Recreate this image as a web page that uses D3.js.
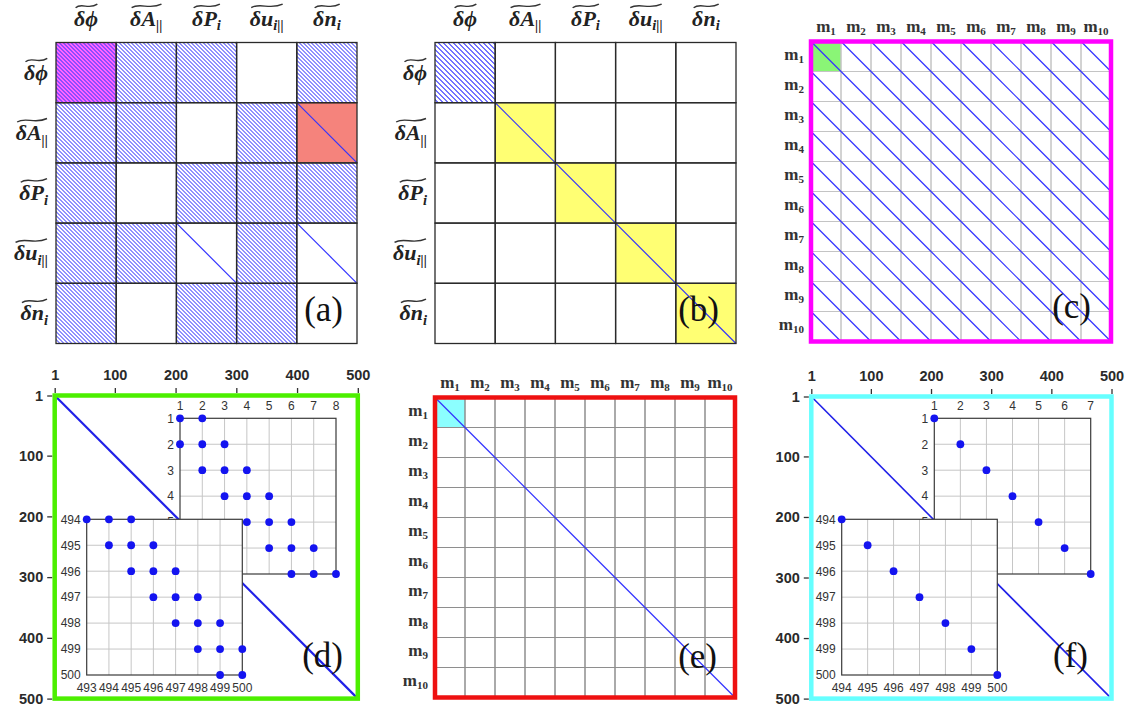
<!DOCTYPE html>
<html><head><meta charset="utf-8">
<script src="https://cdn.jsdelivr.net/npm/d3@7"></script>
<style>body{margin:0;background:#fff}</style>
</head><body>
<script>
// ---------- data ----------
const varBase = ["δϕ","δA","δP","δu","δn"];
const varSub  = ["","||","i","i||","i"];
// h = hatched, hm = hatched on magenta, w = white, d = white + diagonal, sd = salmon + diagonal, yd = yellow + diagonal
const cellsA = [
  ["hm","h","h","w","h"],
  ["h","h","w","h","sd"],
  ["h","w","h","h","h"],
  ["h","h","d","h","d"],
  ["h","w","h","h","w"]
];
const cellsB = [
  ["h","w","w","w","w"],
  ["w","yd","w","w","w"],
  ["w","w","yd","w","w"],
  ["w","w","w","yd","w"],
  ["w","w","w","w","yd"]
];
const modeIdx = [1,2,3,4,5,6,7,8,9,10];
const highlightC = [1,1];   // green cell (mode pair)
const highlightE = [1,1];   // cyan cell
const axisDomain = [1,500];
const axisTicks = [1,100,200,300,400,500];

const dTopRows = [1,2,3,4,5,6,7], dTopCols = [1,2,3,4,5,6,7,8];
const dTopPts = [[1,1],[1,2],[2,1],[2,2],[2,3],[3,2],[3,3],[3,4],[4,3],[4,4],[4,5],
                 [5,4],[5,5],[5,6],[6,5],[6,6],[6,7],[7,6],[7,7],[7,8]];
const dBotRows = [494,495,496,497,498,499,500], dBotCols = [493,494,495,496,497,498,499,500];
const dBotPts = [[494,493],[494,494],[494,495],[495,494],[495,495],[495,496],[496,495],[496,496],[496,497],
                 [497,496],[497,497],[497,498],[498,497],[498,498],[498,499],[499,498],[499,499],[499,500],
                 [500,499],[500,500]];
const fTopRows = [1,2,3,4,5,6,7], fTopCols = [1,2,3,4,5,6,7];
const fTopPts = [[1,1],[2,2],[3,3],[4,4],[5,5],[6,6],[7,7]];
const fBotRows = [494,495,496,497,498,499,500], fBotCols = [494,495,496,497,498,499,500];
const fBotPts = [[494,494],[495,495],[496,496],[497,497],[498,498],[499,499],[500,500]];

// ---------- setup ----------
const svg = d3.select("body").append("svg").attr("width",1133).attr("height",708);
const defs = svg.append("defs");
// pixel-aligned diagonal hatch ("\" direction), stripe two pixels wide
function hatch(id, n, color, op){
  const p = defs.append("pattern").attr("id",id).attr("patternUnits","userSpaceOnUse")
    .attr("x",0).attr("y",0).attr("width",n).attr("height",n);
  d3.range(n).forEach(k=>{
    [k,(k+1)%n].forEach(c=>p.append("rect").attr("x",c).attr("y",k).attr("width",1).attr("height",1)
      .attr("fill",color).attr("fill-opacity",op).attr("shape-rendering","crispEdges"));
  });
}
hatch("hatchA", 4, "#3535ff", 0.55);
hatch("hatchB", 5, "#3030ff", 0.68);

const BLUE = "#3333ff";
const fillOf = {h:"#fff", hm:"#ff66ff", w:"#fff", d:"#fff", sd:"#f5837c", yd:"#ffff73"};

function mathText(g, x, y, base, sub, anchor, fs){
  const t = g.append("text").attr("x",x).attr("y",y).attr("text-anchor",anchor)
    .style("font-family","'Liberation Serif', serif").style("font-weight","bold")
    .style("font-style","italic").style("font-size",fs+"px").attr("fill","#222");
  t.append("tspan").text(base);
  if(sub) t.append("tspan").attr("dy", fs*0.22).style("font-size",(fs*0.66)+"px").text(sub);
  const bb = t.node().getBBox();
  const ty = y - fs*0.9;
  const x0 = bb.x+1.5, x1 = bb.x+bb.width-1, w = x1-x0;
  g.append("path")
    .attr("d",`M${x0},${ty+2} C${x0+w*0.28},${ty-3.5} ${x0+w*0.6},${ty+4.5} ${x1},${ty-1.5}`)
    .attr("fill","none").attr("stroke","#333").attr("stroke-width",1.4);
}
function mText(g, x, y, k, anchor){
  const t = g.append("text").attr("x",x).attr("y",y).attr("text-anchor",anchor)
    .style("font-family","'Liberation Serif', serif").style("font-weight","bold")
    .style("font-size","17px").attr("fill","#333");
  t.append("tspan").text("m");
  t.append("tspan").attr("dy",3.5).style("font-size","11px").text(k);
}
function panelLabel(x, y, s){
  svg.append("text").attr("x",x).attr("y",y).attr("text-anchor","end")
    .style("font-family","'Liberation Serif', serif").style("font-size","35px")
    .attr("fill","#111").text(s);
}

// ---------- variable matrix panels (a),(b) ----------
function varPanel(cells, x0, y0, size, hatchId, labelRight){
  const g = svg.append("g");
  const idx = d3.range(varBase.length);
  const bx = d3.scaleBand().domain(idx).range([x0, x0+size]);
  const by = d3.scaleBand().domain(idx).range([y0, y0+size]);
  const data = [];
  cells.forEach((row,i)=>row.forEach((c,j)=>data.push({i,j,c})));
  g.selectAll("rect.bg").data(data).join("rect").attr("class","bg")
    .attr("x",d=>bx(d.j)).attr("y",d=>by(d.i)).attr("width",bx.bandwidth()).attr("height",by.bandwidth())
    .attr("fill",d=>fillOf[d.c]);
  g.selectAll("rect.ht").data(data.filter(d=>d.c[0]==="h")).join("rect").attr("class","ht")
    .attr("x",d=>bx(d.j)).attr("y",d=>by(d.i)).attr("width",bx.bandwidth()).attr("height",by.bandwidth())
    .attr("fill",`url(#${hatchId})`);
  g.selectAll("line.dg").data(data.filter(d=>d.c.endsWith("d"))).join("line").attr("class","dg")
    .attr("x1",d=>bx(d.j)).attr("y1",d=>by(d.i)).attr("x2",d=>bx(d.j)+bx.bandwidth()).attr("y2",d=>by(d.i)+by.bandwidth())
    .attr("stroke",BLUE).attr("stroke-width",1.2);
  g.selectAll("rect.bd").data(data).join("rect").attr("class","bd")
    .attr("x",d=>bx(d.j)).attr("y",d=>by(d.i)).attr("width",bx.bandwidth()).attr("height",by.bandwidth())
    .attr("fill","none").attr("stroke","#2a2a2a").attr("stroke-width",1.3);
  idx.forEach(k=>{
    mathText(g, bx(k)+bx.bandwidth()/2, y0-17, varBase[k], varSub[k], "middle", 22);
    mathText(g, labelRight, by(k)+by.bandwidth()/2+7, varBase[k], varSub[k], "end", 22);
  });
}
varPanel(cellsA, 56, 42.5, 301, "hatchA", 48);
varPanel(cellsB, 435, 42.5, 301, "hatchB", 427);
panelLabel(343, 321, "(a)");
panelLabel(719, 321, "(b)");

// ---------- mode matrix panels (c),(e) ----------
function modePanel(x0, y0, size, frameColor, gridColor, hiCell, hiColor, diagRule, labelRight){
  const g = svg.append("g");
  const bx = d3.scaleBand().domain(modeIdx).range([x0, x0+size]);
  const by = d3.scaleBand().domain(modeIdx).range([y0, y0+size]);
  g.append("rect").attr("x",bx(hiCell[1])).attr("y",by(hiCell[0]))
    .attr("width",bx.bandwidth()).attr("height",by.bandwidth()).attr("fill",hiColor);
  const data = [];
  modeIdx.forEach(i=>modeIdx.forEach(j=>data.push({i,j})));
  g.selectAll("rect.bd").data(data).join("rect").attr("class","bd")
    .attr("x",d=>bx(d.j)).attr("y",d=>by(d.i)).attr("width",bx.bandwidth()).attr("height",by.bandwidth())
    .attr("fill","none").attr("stroke",gridColor).attr("stroke-width",1);
  g.selectAll("line.dg").data(data.filter(diagRule)).join("line").attr("class","dg")
    .attr("x1",d=>bx(d.j)).attr("y1",d=>by(d.i)).attr("x2",d=>bx(d.j)+bx.bandwidth()).attr("y2",d=>by(d.i)+by.bandwidth())
    .attr("stroke",BLUE).attr("stroke-width",1.15);
  g.append("rect").attr("x",x0).attr("y",y0).attr("width",size).attr("height",size)
    .attr("fill","none").attr("stroke",frameColor).attr("stroke-width",4.5);
  modeIdx.forEach(k=>{
    mText(g, bx(k)+bx.bandwidth()/2, y0-10, k, "middle");
    mText(g, labelRight, by(k)+by.bandwidth()/2+3, k, "end");
  });
}
modePanel(811, 41.5, 300, "#ff00ff", "#c4c4c4", highlightC, "#8af576", d=>true, 804);
modePanel(435, 397.5, 300, "#ee1111", "#8e8e8e", highlightE, "#8cffff", d=>d.i===d.j, 428);
panelLabel(1091, 318, "(c)");
panelLabel(717, 668, "(e)");

// ---------- sparsity panels (d),(f) ----------
function inset(g, left, top, right, bottom, cols, rows, pts, labTop, labBottom){
  const x = d3.scaleLinear().domain(d3.extent(cols)).range([left,right]);
  const y = d3.scaleLinear().domain(d3.extent(rows)).range([top,bottom]);
  g.append("rect").attr("x",left).attr("y",top).attr("width",right-left).attr("height",bottom-top).attr("fill","#fff");
  g.selectAll(null).data(cols.slice(1,-1)).join("line")
    .attr("x1",d=>x(d)).attr("x2",d=>x(d)).attr("y1",top).attr("y2",bottom).attr("stroke","#c6c6c6");
  g.selectAll(null).data(rows.slice(1,-1)).join("line")
    .attr("y1",d=>y(d)).attr("y2",d=>y(d)).attr("x1",left).attr("x2",right).attr("stroke","#c6c6c6");
  g.append("rect").attr("x",left).attr("y",top).attr("width",right-left).attr("height",bottom-top)
    .attr("fill","none").attr("stroke","#3a3a3a").attr("stroke-width",1.2);
  const ts = sel=>sel.style("font-family","'Liberation Sans', Arial, sans-serif").style("font-size","12px").attr("fill","#333");
  if(labTop) g.selectAll(null).data(cols).join("text").attr("x",d=>x(d)).attr("y",top-8).attr("text-anchor","middle").text(d=>d).call(ts);
  if(labBottom) g.selectAll(null).data(cols).join("text").attr("x",d=>x(d)).attr("y",bottom+17).attr("text-anchor","middle").text(d=>d).call(ts);
  g.selectAll(null).data(rows).join("text").attr("x",left-6).attr("y",d=>y(d)).attr("dy","0.36em").attr("text-anchor","end").text(d=>d).call(ts);
  g.selectAll(null).data(pts).join("circle").attr("cx",d=>x(d[1])).attr("cy",d=>y(d[0])).attr("r",3.9).attr("fill","#1414f0");
}
function sparsePanel(xr, yr, frameColor, lineW, insets, labRight){
  const g = svg.append("g");
  const x = d3.scaleLinear().domain(axisDomain).range(xr);
  const y = d3.scaleLinear().domain(axisDomain).range(yr);
  g.append("line").attr("x1",x(1)).attr("y1",y(1)).attr("x2",x(500)).attr("y2",y(500))
    .attr("stroke","#2020e8").attr("stroke-width",lineW);
  insets.forEach(s=>inset(g, ...s));
  g.append("rect").attr("x",x(1)).attr("y",y(1)).attr("width",x(500)-x(1)).attr("height",y(500)-y(1))
    .attr("fill","none").attr("stroke",frameColor).attr("stroke-width",4.5);
  const ax = g.append("g").attr("transform",`translate(0,${yr[0]-2.5})`)
    .call(d3.axisTop(x).tickValues(axisTicks).tickSize(5).tickPadding(8));
  const ay = g.append("g").attr("transform",`translate(${xr[0]-2.5},0)`)
    .call(d3.axisLeft(y).tickValues(axisTicks).tickSize(5).tickPadding(4));
  [ax,ay].forEach(a=>{
    a.select(".domain").remove();
    a.selectAll("line").attr("stroke","#333").attr("stroke-width",1.3);
    a.selectAll("text").style("font-family","'Liberation Sans', Arial, sans-serif")
      .style("font-size","14.5px").style("font-weight","bold").attr("fill","#2a2a2a");
  });
  panelLabel(labRight[0], labRight[1], labRight[2]);
}
sparsePanel([54.7,357.8],[395.5,698.6],"#4cef00",2.2,[
  [180,418.3,336,574,dTopCols,dTopRows,dTopPts,true,false],
  [86.7,519.3,242.3,675,dBotCols,dBotRows,dBotPts,false,true]
],[343,667,"(d)"]);
sparsePanel([811.3,1111.5],[396.5,698.6],"#66ffff",1.6,[
  [934.3,418.3,1090.7,574,fTopCols,fTopRows,fTopPts,true,false],
  [841.7,519.3,997.3,675,fBotCols,fBotRows,fBotPts,false,true]
],[1088,667,"(f)"]);
</script>
</body></html>
